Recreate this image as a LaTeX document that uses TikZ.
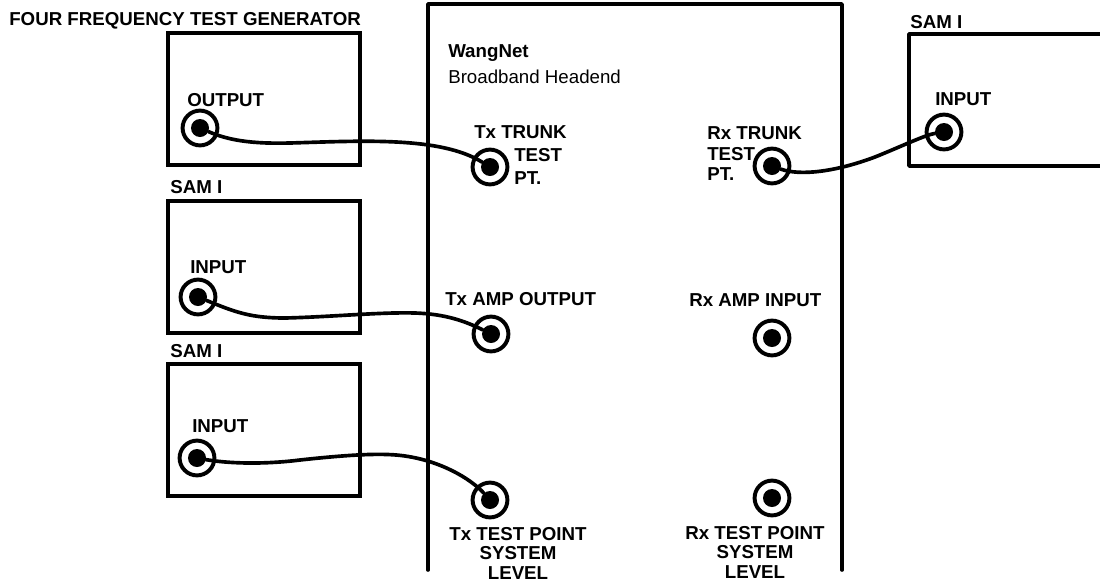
\documentclass[tikz,border=0pt]{standalone}
\usepackage{fontspec}
\setmainfont{Liberation Sans}
\usepackage{tikz}
\usetikzlibrary{calc}

\begin{document}
\begin{tikzpicture}[x=0.025cm, y=-0.025cm,
    lbl/.style={font=\fontsize{13.3}{14}\selectfont\bfseries, inner sep=0pt, align=center, yshift=-1.2pt},
    lbll/.style={lbl, anchor=west},
    devbox/.style={draw, line width=2.4pt, minimum width=4.8cm, minimum height=3.3cm, inner sep=0pt},
    wall/.style={line width=2.6pt, line cap=round, line join=round},
    jack/.style={circle, draw, line width=2.8pt, minimum size=0.87cm, inner sep=0pt},
    jackdot/.style={circle, fill, minimum size=0.45cm, inner sep=0pt},
    cable/.style={line width=2.6pt, line cap=round}]
  \useasboundingbox (0,0) rectangle (1100,586);
  % Boxes
  \node[devbox] (gen) at (264,99) {};
  \node[devbox] (samA) at (264,267) {};
  \node[devbox] (samB) at (264,430) {};
  \draw[wall] (1100,34) -- (909,34) -- (909,166) -- (1100,166);
  % Headend
  \draw[wall] (428,570) -- (428,4) -- (842,4) -- (842,570);
  % Jacks
  \foreach \name/\x/\y in {outA/200/128, txTrunk/490/167, rxTrunk/772/166, inR/944/132,
      inA/198/297, txAmp/491/334, rxAmp/772/338, inB/197/458, txTest/490/500, rxTest/772/498} {
    \node[jack] (\name) at (\x,\y) {};
    \node[jackdot] (\name dot) at (\x,\y) {};
  }
  % Cables
  \draw[cable] (outAdot) .. controls (228,140) and (250,144) .. (290,143)
    .. controls (360,141) and (440,136) .. (txTrunkdot);
  \draw[cable] (inAdot) .. controls (235,312) and (250,318) .. (285,318)
    .. controls (330,317) and (380,312) .. (415,313)
    .. controls (445,314) and (465,321) .. (txAmpdot);
  \draw[cable] (inBdot) .. controls (225,463) and (260,465) .. (300,460)
    .. controls (355,454) and (385,453) .. (405,456)
    .. controls (440,461) and (470,478) .. (txTestdot);
  \draw[cable] (rxTrunkdot) .. controls (800,176) and (835,172) .. (875,157)
    .. controls (900,147) and (925,135) .. (inRdot);
  % Left labels
  \node[lbll] (genName) at (9,19) {FOUR FREQUENCY TEST GENERATOR};
  \node[lbll] (outLbl) at (187,98) {OUTPUT};
  \node[lbll] (samAName) at (170,185) {SAM I};
  \node[lbll] (inALbl) at (190,265) {INPUT};
  \node[lbll] (samBName) at (170,349) {SAM I};
  \node[lbll] (inBLbl) at (192,424) {INPUT};
  % Headend labels
  \node[lbll] (headName) at (448,51) {WangNet};
  \node[anchor=west, font=\fontsize{13.3}{14}\selectfont, inner sep=0pt] (headSub) at (448,77) {Broadband Headend};
  \node[lbll] (txTrunkLbl) at (474,130) {Tx TRUNK};
  \node[lbll] (txTestLbl) at (514,153) {TEST};
  \node[lbll] (txPtLbl) at (514,176) {PT.};
  \node[lbll] (rxTrunkLbl) at (707,131) {Rx TRUNK};
  \node[lbll] (rxTestLbl) at (707,152) {TEST};
  \node[lbll] (rxPtLbl) at (707,172) {PT.};
  \node[lbll] (txAmpLbl) at (445,297) {Tx AMP OUTPUT};
  \node[lbll] (rxAmpLbl) at (689,298) {Rx AMP INPUT};
  \node[lbl, anchor=north] (txTestName) at (518,525) {Tx TEST POINT\\SYSTEM\\LEVEL};
  \node[lbl, anchor=north] (rxTestName) at (755,524) {Rx TEST POINT\\SYSTEM\\LEVEL};
  % Right labels
  \node[lbll] (samRName) at (910,20) {SAM I};
  \node[lbll] (inRLbl) at (935,97) {INPUT};
\end{tikzpicture}
\end{document}
